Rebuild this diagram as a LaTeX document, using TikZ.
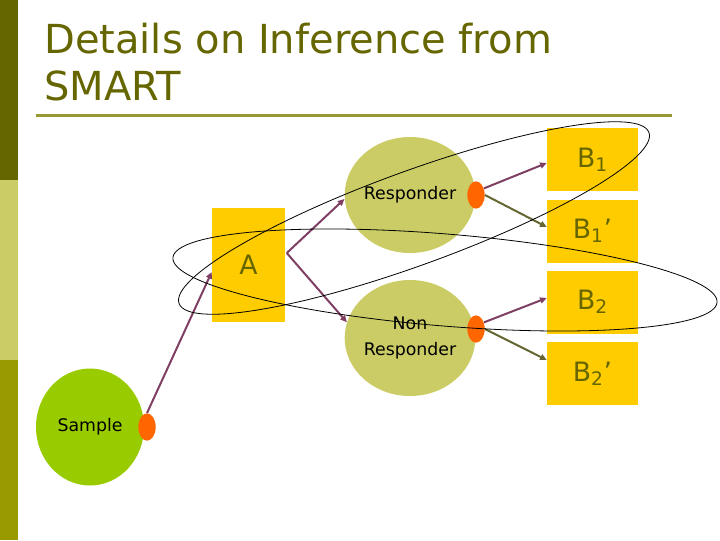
\documentclass[tikz,border=0pt]{standalone}
\usepackage{fontspec}
\setmainfont{DejaVu Sans}
\usetikzlibrary{shapes.geometric,arrows.meta,calc}
\definecolor{olivedark}{HTML}{666600}
\definecolor{olivelight}{HTML}{CCCC66}
\definecolor{olivemid}{HTML}{999900}
\definecolor{rulecol}{HTML}{999933}
\definecolor{boxyellow}{HTML}{FFCC00}
\definecolor{dotorange}{HTML}{FF6600}
\definecolor{samplegreen}{HTML}{99CC00}
\definecolor{purplearrow}{HTML}{7F3F62}
\definecolor{olivearrow}{HTML}{666633}
\begin{document}
\begin{tikzpicture}[x=0.75pt,y=-0.75pt,
  circ/.style={ellipse, fill=olivelight, inner sep=0, minimum width=93.75pt, minimum height=87pt, font=\fontsize{13}{19.5}\selectfont, align=center},
  samplecirc/.style={ellipse, fill=samplegreen, inner sep=0, minimum width=81pt, minimum height=87.75pt, font=\fontsize{13}{19.5}\selectfont},
  dotnode/.style={ellipse, fill=dotorange, inner sep=0, minimum width=13pt, minimum height=20.5pt},
  bbox/.style={rectangle, fill=boxyellow, inner sep=0, minimum width=68.25pt, minimum height=47.25pt, text=olivedark, font=\fontsize{20}{24}\selectfont},
  parr/.style={draw=purplearrow, line width=1.5pt, -{Triangle[length=5pt,width=4.5pt]}},
  oarr/.style={draw=olivearrow, line width=1.5pt, -{Triangle[length=5pt,width=4.5pt]}},
  loopline/.style={draw=black, line width=0.6pt}
]
\useasboundingbox (0,0) rectangle (720,540);
% side bar
\fill[olivedark] (0,0) rectangle (18,180);
\fill[olivelight] (0,180) rectangle (18,360);
\fill[olivemid] (0,360) rectangle (18,540);
% title
\node[anchor=north west, inner sep=0, text=olivedark, font=\fontsize{30}{35.25}\selectfont, align=left] (title) at (44,23) {Details on Inference from\\SMART};
\coordinate (ruleL) at (36,115);
\coordinate (ruleR) at (672,115);
\draw[rulecol, line width=2.25pt] (ruleL) -- (ruleR);
% nodes
\node[samplecirc] (S) at (90,427) {Sample};
\node[dotnode] (Sdot) at (147,427) {};
\node[rectangle, fill=boxyellow, inner sep=0, minimum width=54.75pt, minimum height=85.5pt, text=olivedark, font=\fontsize{20}{24}\selectfont] (A) at (248.5,265) {A};
\node[circ] (R) at (410,195) {Responder};
\node[dotnode] (Rdot) at (476,195) {};
\node[circ] (NR) at (410,338) {Non\\Responder};
\node[dotnode] (NRdot) at (476,329) {};
\node[bbox] (B1) at (592.5,159.5) {B\textsubscript{1}};
\node[bbox] (B1p) at (592.5,231) {B\textsubscript{1}’};
\node[bbox] (B2) at (592.5,302) {B\textsubscript{2}};
\node[bbox] (B2p) at (592.5,373.5) {B\textsubscript{2}’};
% arrows
\coordinate (Aout) at ($(A.east)+(1.5,-12)$);
\draw[parr] (Sdot.north) -- ($(A.west)+(0,7)$);
\draw[parr] (Aout) -- ($(R.west)+(0,4)$);
\draw[parr] (Aout) -- (NR.166);
\draw[parr] (Rdot.40) -- ($(B1.west)+(0,3.5)$);
\draw[oarr] (Rdot.east) -- ($(B1p.west)+(0,-4)$);
\draw[parr] (NRdot.40) -- ($(B2.west)+(0,-4)$);
\draw[oarr] (NRdot.east) -- ($(B2p.west)+(0,-13.5)$);
% loops
\coordinate (c1) at (414,218);
\coordinate (c2) at (445,280);
\draw[loopline, rotate around={20:(c1)}] (c1) ellipse [x radius=187.5pt, y radius=35.25pt];
\draw[loopline, rotate around={-4.7:(c2)}] (c2) ellipse [x radius=204.75pt, y radius=34.5pt];
\end{tikzpicture}
\end{document}
